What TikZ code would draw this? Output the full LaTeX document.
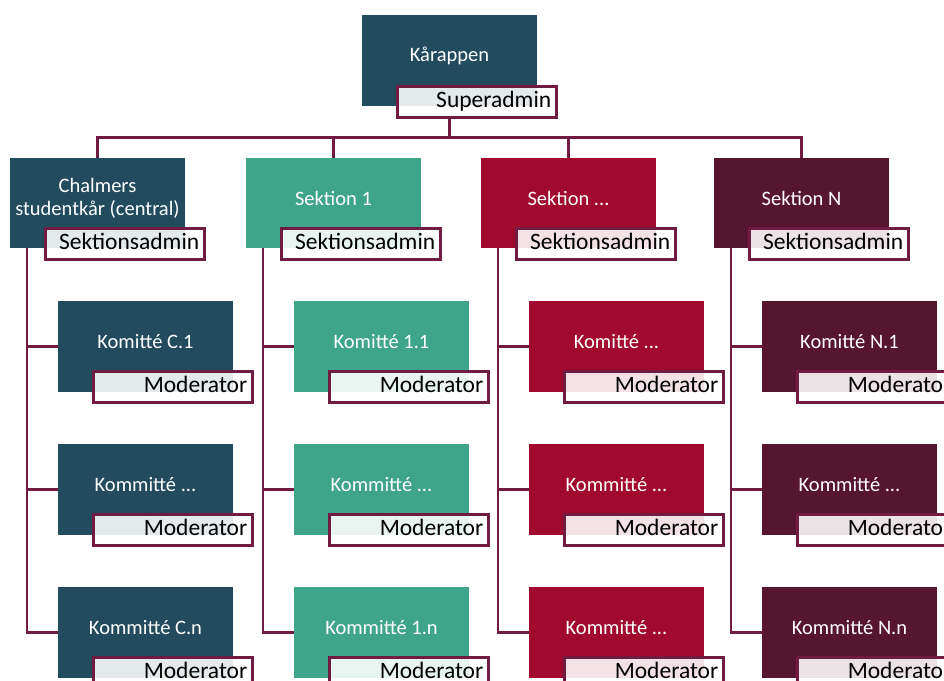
\documentclass[tikz,border=0pt]{standalone}
\usepackage{fontspec}
\setmainfont{Carlito}

\definecolor{karblue}{HTML}{234B5E}
\definecolor{secgreen}{HTML}{3EA58A}
\definecolor{secred}{HTML}{A10A2E}
\definecolor{secplum}{HTML}{571630}
\definecolor{linemaroon}{HTML}{701C42}

\newcommand{\etc}{...}

\tikzset{
  unit/.style={rectangle, minimum width=175pt, minimum height=90pt,
    inner sep=0pt, outer sep=0pt},
  unittext/.style={text=white, align=center, yshift=5pt,
    font=\fontsize{20.5pt}{23pt}\selectfont},
  role/.style={draw=linemaroon, line width=2.5pt, fill=white,
    fill opacity=0.88, text opacity=1, anchor=north west,
    minimum height=31pt, text width=149pt, inner xsep=5pt, inner ysep=0pt,
    text height=15pt, text depth=4pt, align=right,
    font=\fontsize{23.5pt}{28pt}\selectfont},
  conn/.style={draw=linemaroon, line width=2.5pt},
}

\begin{document}
\begin{tikzpicture}[x=1pt, y=-1pt]

  \useasboundingbox (0,0) rectangle (944,680);
  \clip (0,0) rectangle (944,680);

  % column layout
  \def\komdx{48}
  \def\trunkdx{17}

  % top unit
  \node[unit, fill=karblue, minimum height=91pt,
    label={[unittext]center:Kårappen}] (kar) at (449.5,60.5) {};
  \node[role] (karrole) at ([xshift=34pt,yshift=21pt]kar.south west) {Superadmin};
  \coordinate (drop) at (karrole.south -| kar.south);

  % sections and committees
  \foreach \c/\x/\col/\name/\first/\last in {
    0/10/karblue/{Chalmers\\studentkår (central)}/C.1/C.n,
    1/246/secgreen/{Sektion 1}/1.1/1.n,
    2/481/secred/{Sektion \etc}/\etc/\etc,
    3/714/secplum/{Sektion N}/N.1/N.n}
  {
    \node[unit, fill=\col, label={[unittext]center:\name}] (sec\c)
      at (\x+87.5,203) {};

    % bus from the top unit
    \draw[conn] (drop) -- ++(0,19) -| (sec\c.north);

    \foreach \r/\ky/\ktext in {1/346.5/Komitté \first,
      2/489.5/Kommitté \etc, 3/632.5/Kommitté \last}
    {
      \node[unit, fill=\col, minimum height=91pt,
        label={[unittext]center:\ktext}] (kom\c\r) at (\x+\komdx+87.5,\ky) {};
      \draw[conn] ([xshift=\trunkdx pt]sec\c.south west) |- (kom\c\r.west);
      \node[role] (kom\c\r role) at ([xshift=34pt,yshift=22pt]kom\c\r.south west) {Moderator};
    }

    \node[role] (sec\c role) at ([xshift=34pt,yshift=21pt]sec\c.south west) {Sektionsadmin};
  }

\end{tikzpicture}
\end{document}
